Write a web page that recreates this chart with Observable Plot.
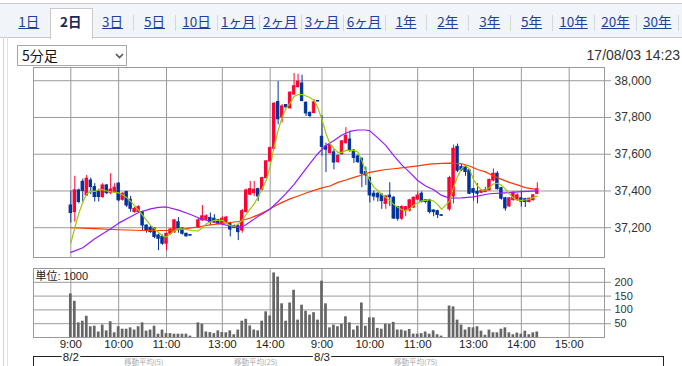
<!DOCTYPE html>
<html lang="ja">
<head>
<meta charset="utf-8">
<script src="https://cdn.jsdelivr.net/npm/d3@7"></script>
<script src="https://cdn.jsdelivr.net/npm/@observablehq/plot@0.6"></script>
<style>
html,body{margin:0;padding:0;background:#fff;}
body{width:682px;height:366px;overflow:hidden;position:relative;font-family:"Liberation Sans",Arial,"Noto Sans CJK JP",sans-serif;}
#tabbar{position:absolute;left:0;top:3px;width:682px;height:33px;background:#f1f4f9;border-top:1px solid #c9c9c9;border-bottom:1px solid #c9c9c9;}
.tab{position:absolute;top:12px;height:18px;line-height:18px;text-align:center;font-size:13.5px;color:#1f3f99;text-decoration:underline;font-family:"Noto Sans CJK JP","Liberation Sans",sans-serif;white-space:nowrap}
.tab.sel{color:#1a2757;font-weight:bold;text-decoration:none}
#seltab{position:absolute;left:50px;top:8px;width:41px;height:30px;background:#fff;border:1px solid #c9c9c9;border-bottom:none;}
.sep{position:absolute;top:15px;width:1px;height:16px;background:#d3d8e0}
#lline1{position:absolute;left:3px;top:37px;width:1px;height:329px;background:#cfd6e2}
#lline2{position:absolute;left:7px;top:37px;width:1px;height:329px;background:#e3e3e3}
#select{position:absolute;left:17px;top:45px;width:110px;height:21px;box-sizing:border-box;border:1px solid #a6a6a6;background:#fff}
#select span{position:absolute;left:4px;top:0;line-height:19px;font-size:14px;font-family:"Noto Sans CJK JP",sans-serif;color:#111}
#select svg{position:absolute;left:97px;top:7px}
#stamp{position:absolute;right:2px;top:47px;font-size:14px;color:#333;line-height:16px}
.plot{position:absolute;left:0}
#legend{position:absolute;left:33px;top:356px;width:631px;height:30px;border:1px solid #222;box-sizing:border-box}
#legend span{position:absolute;top:1px;font-size:7.5px;line-height:8px;color:#aaa;font-family:"Noto Sans CJK JP",sans-serif;white-space:nowrap}
</style>
</head>
<body>
<div id="tabbar"></div>
<div id="lline1"></div><div id="lline2"></div>
<div id="select"><span>5分足</span><svg width="9" height="6"><polyline points="1,1 4.5,4.5 8,1" fill="none" stroke="#555" stroke-width="1.6"/></svg></div>
<div id="stamp">17/08/03 14:23</div>
<div id="legend"><span style="left:90px">移動平均(5)</span><span style="left:200px">移動平均(25)</span><span style="left:360px">移動平均(75)</span></div>
<div id="mainplot" class="plot" style="top:60px"></div>
<div id="volplot" class="plot" style="top:260px"></div>
<script>
// ---------- tabs ----------
const tabLabels = ["1日","2日","3日","5日","10日","1ヶ月","2ヶ月","3ヶ月","6ヶ月","1年","2年","3年","5年","10年","20年","30年"];
const selectedTab = 1;

// ---------- time axis (5-minute slots) ----------
const timeTickIdx = [0, 12, 24, 38, 50, 63, 75, 87, 101, 113, 125];
const timeTickLabels = ["9:00","10:00","11:00","13:00","14:00","9:00","10:00","11:00","13:00","14:00","15:00"];
const dateTickIdx = [0, 63];
const dateTickLabels = ["8/2","8/3"];

// ---------- price axis ----------
const priceTicks = [37200, 37400, 37600, 37800, 38000];
const volTicks = [50, 100, 150, 200];

// ---------- candles (index = 5-minute slot; null = no trade) ----------
const opens = [
 37321,37285,37403,37450,37376,37457,37421,37394,37367,37430,
 37388,37394,37440,37352,37394,37352,37285,37285,37285,37212,
 37200,37195,37158,37150,37113,37167,37176,37230,37195,37167,
 37160,null,37200,37240,37244,37253,37249,37240,37222,37230,
 37222,37208,37208,37185,37285,37380,37388,37410,37407,37470,
 37561,37630,37884,37800,37868,37850,37925,37965,37985,37880,
 37825,37824,37890,37695,37642,37606,37610,37557,37600,37660,
 37680,37620,37588,37575,37503,37470,37385,37385,37380,37330,
 37375,37363,37312,37249,37290,37294,37310,37353,37385,37349,
 37349,37294,37290,37268,null,37300,37370,37640,37530,37530,
 37512,37410,37395,37390,37395,37403,37457,37494,37415,37360,
 37316,37350,37350,37360,37355,37340,37350,37385];
const highs = [
 37400,37480,37410,37465,37485,37470,37440,37410,37440,37435,
 37494,37440,37445,37390,37400,37370,37310,37320,37290,37215,
 37210,37200,37165,37160,37170,37195,37245,37255,37200,37170,
 37160,null,37250,37321,37270,37280,37271,37245,37260,37262,
 37230,37215,37215,37300,37410,37452,37452,37415,37475,37565,
 37640,37880,37995,37870,37870,37940,38040,38035,38030,37885,
 37830,37897,37892,37810,37660,37655,37625,37600,37675,37745,
 37725,37625,37595,37580,37530,37475,37400,37390,37385,37375,
 37445,37370,37315,37320,37316,37355,37368,37395,37395,37352,
 37355,37298,37295,37270,null,37480,37650,37655,37545,37540,
 37515,37415,37440,37405,37420,37465,37520,37505,37420,37365,
 37365,37395,37385,37400,37360,37362,37380,37445];
const lows = [
 37225,37230,37330,37340,37370,37380,37340,37340,37360,37380,
 37380,37390,37340,37345,37310,37285,37280,37280,37180,37170,
 37170,37140,37075,37105,37075,37160,37170,37170,37160,37150,
 37155,null,37195,37235,37240,37212,37225,37215,37215,37225,
 37150,37195,37130,37170,37280,37375,37370,37343,37400,37465,
 37555,37625,37760,37770,37850,37845,37920,37960,37885,37805,
 37800,37820,37885,37590,37500,37600,37515,37550,37595,37655,
 37610,37550,37550,37418,37430,37335,37345,37340,37300,37300,
 37315,37245,37235,37240,37260,37285,37305,37350,37335,37330,
 37275,37260,37250,37262,null,37290,37330,37500,37505,37480,
 37380,37345,37330,37385,37390,37400,37450,37405,37350,37290,
 37310,37345,37345,37312,37310,37335,37345,37380];
const closes = [
 37280,37403,37340,37400,37467,37421,37367,37367,37430,37388,
 37408,37418,37349,37385,37321,37303,37303,37312,37212,37185,
 37176,37150,37140,37113,37167,37190,37240,37195,37167,37153,
 37157,null,37240,37262,37262,37231,37231,37222,37249,37255,
 37190,37200,37176,37290,37403,37410,37407,37370,37470,37561,
 37633,37875,37790,37860,37855,37935,37970,37995,37890,37822,
 37808,37882,37887,37640,37625,37650,37555,37590,37670,37700,
 37620,37580,37557,37494,37485,37376,37370,37365,37345,37370,
 37365,37250,37249,37312,37312,37349,37363,37375,37340,37340,
 37285,37285,37270,37265,null,37470,37630,37510,37515,37503,
 37385,37390,37385,37400,37405,37460,37494,37410,37358,37305,
 37360,37390,37376,37342,37340,37358,37376,37410];
const volumes = [
 158,131,53,59,77,39,41,20,45,24,
 57,17,39,30,30,35,27,39,53,23,
 27,41,12,27,14,14,12,12,12,12,
 5,null,53,48,20,18,14,24,18,17,
 24,10,27,59,66,42,27,24,59,93,
 78,234,219,122,59,125,171,63,117,95,
 81,90,63,204,122,35,45,39,48,75,
 53,27,41,125,41,71,71,33,30,48,
 47,55,27,27,23,29,12,12,14,20,
 12,24,10,5,null,114,111,63,45,27,
 36,35,39,23,8,27,17,17,30,35,
 17,10,16,12,23,10,17,20];

// ---------- moving averages: [slot, price] ----------
const ma5 = [[0,37115],[1,37200],[2,37278],[3,37339],[4,37385],[5,37399],[6,37398],[7,37407],[8,37408],[9,37400],[10,37395],[12,37390],[13,37378],[14,37365],[15,37343],[16,37320],[17,37295],[18,37268],[19,37240],[20,37213],[21,37195],[22,37174],[23,37155],[24,37150],[25,37167],[26,37183],[27,37195],[29,37191],[30,37185],[32,37183],[33,37200],[34,37222],[36,37240],[38,37240],[39,37225],[40,37212],[41,37207],[42,37222],[43,37240],[44,37272],[45,37303],[46,37330],[47,37370],[48,37414],[49,37457],[50,37534],[51,37642],[52,37730],[53,37802],[54,37849],[55,37878],[56,37915],[57,37924],[58,37925],[59,37917],[60,37909],[61,37893],[62,37851],[63,37788],[64,37713],[65,37657],[66,37632],[67,37610],[68,37610],[69,37621],[71,37621],[72,37612],[73,37566],[74,37503],[75,37457],[76,37421],[77,37403],[78,37381],[79,37365],[80,37346],[81,37327],[82,37311],[83,37298],[84,37293],[85,37303],[86,37321],[87,37335],[88,37346],[90,37352],[91,37345],[92,37327],[93,37300],[95,37345],[96,37420],[97,37478],[98,37522],[99,37539],[100,37518],[101,37462],[102,37428],[103,37405],[104,37405],[105,37418],[106,37438],[107,37442],[108,37432],[109,37410],[110,37385],[111,37362],[112,37350],[113,37349],[114,37352],[115,37356],[116,37365],[117,37372]];
const ma25 = [[0,37066],[3,37091],[6,37140],[10,37194],[12,37225],[15,37260],[17,37283],[20,37303],[22,37311],[24,37313],[27,37296],[30,37272],[32,37254],[35,37234],[37,37223],[40,37210],[42,37203],[43,37205],[44,37218],[45,37232],[47,37262],[48,37275],[50,37302],[52,37343],[54,37387],[56,37436],[58,37493],[60,37550],[62,37604],[64,37648],[66,37675],[68,37705],[70,37724],[72,37732],[74,37732],[75,37727],[77,37689],[79,37648],[81,37593],[83,37542],[85,37501],[87,37457],[89,37427],[91,37407],[93,37376],[95,37361],[98,37363],[101,37368],[105,37385],[109,37390],[113,37396],[117,37401]];
const ma75 = [[0,37200],[6,37195],[12,37189],[18,37185],[24,37185],[28,37191],[30,37199],[32,37204],[34,37213],[38,37223],[42,37234],[45,37253],[47,37270],[49,37291],[51,37316],[53,37338],[55,37357],[57,37373],[59,37389],[61,37403],[63,37417],[65,37427],[67,37447],[69,37460],[71,37474],[73,37487],[75,37501],[77,37509],[79,37517],[81,37521],[84,37528],[87,37537],[90,37546],[93,37550],[95,37552],[98,37548],[100,37536],[102,37517],[104,37504],[106,37482],[108,37463],[110,37447],[112,37433],[114,37418],[117,37407]];

// ---------- build tabs ----------
const bar = document.getElementById("tabbar");
const tabStep = 41.9, tabCenter0 = 28.8;
document.body.insertBefore(Object.assign(document.createElement("div"), {id: "seltab"}), bar.nextSibling);
tabLabels.forEach((t, k) => {
  const el = document.createElement("div");
  el.className = "tab" + (k === selectedTab ? " sel" : "");
  el.textContent = t;
  el.style.left = (tabCenter0 + tabStep * k - 21) + "px";
  el.style.width = "42px";
  document.body.appendChild(el);
  if (k >= 2) {
    const s = document.createElement("div");
    s.className = "sep";
    s.style.left = Math.round(tabCenter0 + tabStep * k + 20.5) + "px";
    document.body.appendChild(s);
  }
});

// ---------- data tables ----------
const candles = opens.map((o, i) => o == null ? null : {i, o, h: highs[i], l: lows[i], c: closes[i]}).filter(d => d);
const vols = volumes.map((v, i) => v == null ? null : {i, v}).filter(d => d);
const dates = dateTickIdx.map((i, k) => ({i, label: dateTickLabels[k]}));
const up = "#ff0033", down = "#003399";
const col = d => d.c >= d.o ? up : down;
const xDomain = [-9.36, 133.86];
const font = "'Liberation Sans', Arial, 'Noto Sans CJK JP', sans-serif";
const grid = "#9a9a9a";

const main = Plot.plot({
  width: 682, height: 210,
  marginTop: 7, marginBottom: 13, marginLeft: 33, marginRight: 78,
  x: {domain: xDomain, axis: null},
  y: {domain: [37038, 38072], axis: null},
  style: {background: "transparent", fontFamily: font, overflow: "visible"},
  marks: [
    Plot.ruleY(priceTicks, {stroke: grid}),
    Plot.ruleX(timeTickIdx, {stroke: grid}),
    Plot.frame({stroke: grid}),
    Plot.ruleX(candles, {x: "i", y1: "l", y2: "h", stroke: col, strokeWidth: 1}),
    Plot.rect(candles, {x1: d => d.i - 0.3, x2: d => d.i + 0.3, y1: "o", y2: "c", fill: col, stroke: col, strokeWidth: 1}),
    Plot.line(ma75, {x: d => d[0], y: d => d[1], stroke: "#ff3a00", strokeWidth: 1.2}),
    Plot.line(ma25, {x: d => d[0], y: d => d[1], stroke: "#9a1aff", strokeWidth: 1.2}),
    Plot.line(ma5, {x: d => d[0], y: d => d[1], stroke: "#99cc00", strokeWidth: 1.2}),
    Plot.axisY(priceTicks, {anchor: "right", label: null, tickSize: 6, tickPadding: 4, tickFormat: d3.format(","), fontSize: 12, stroke: grid, fill: "#333"})
  ]
});
document.getElementById("mainplot").appendChild(main);

const vol = Plot.plot({
  width: 682, height: 106,
  marginTop: 8, marginBottom: 29, marginLeft: 33, marginRight: 78,
  x: {domain: xDomain, axis: null},
  y: {domain: [0, 250], axis: null},
  style: {background: "transparent", fontFamily: font, overflow: "visible"},
  marks: [
    Plot.ruleY(volTicks, {stroke: grid}),
    Plot.ruleX(timeTickIdx, {stroke: grid}),
    Plot.frame({stroke: grid}),
    Plot.rectY(vols, {x1: d => d.i - 0.34, x2: d => d.i + 0.34, y: "v", fill: "#666"}),
    Plot.axisY(volTicks, {anchor: "right", label: null, tickSize: 6, tickPadding: 4, fontSize: 11, stroke: grid, fill: "#333"}),
    Plot.axisX(timeTickIdx, {anchor: "bottom", label: null, tickSize: 0, tickPadding: 2.5, fontSize: 11.5, fill: "#222",
      tickFormat: d => timeTickLabels[timeTickIdx.indexOf(d)], textStroke: "white", textStrokeWidth: 4}),
    Plot.text(dates, {x: "i", text: "label", frameAnchor: "bottom", lineAnchor: "top", dy: 15.5, fontSize: 11.5, fill: "#222", stroke: "white", strokeWidth: 4, paintOrder: "stroke"}),
    Plot.text(["単位: 1000"], {frameAnchor: "top-left", dx: 2, dy: 4, fontSize: 11, fill: "#222"})
  ]
});
document.getElementById("volplot").appendChild(vol);
</script>
</body>
</html>
